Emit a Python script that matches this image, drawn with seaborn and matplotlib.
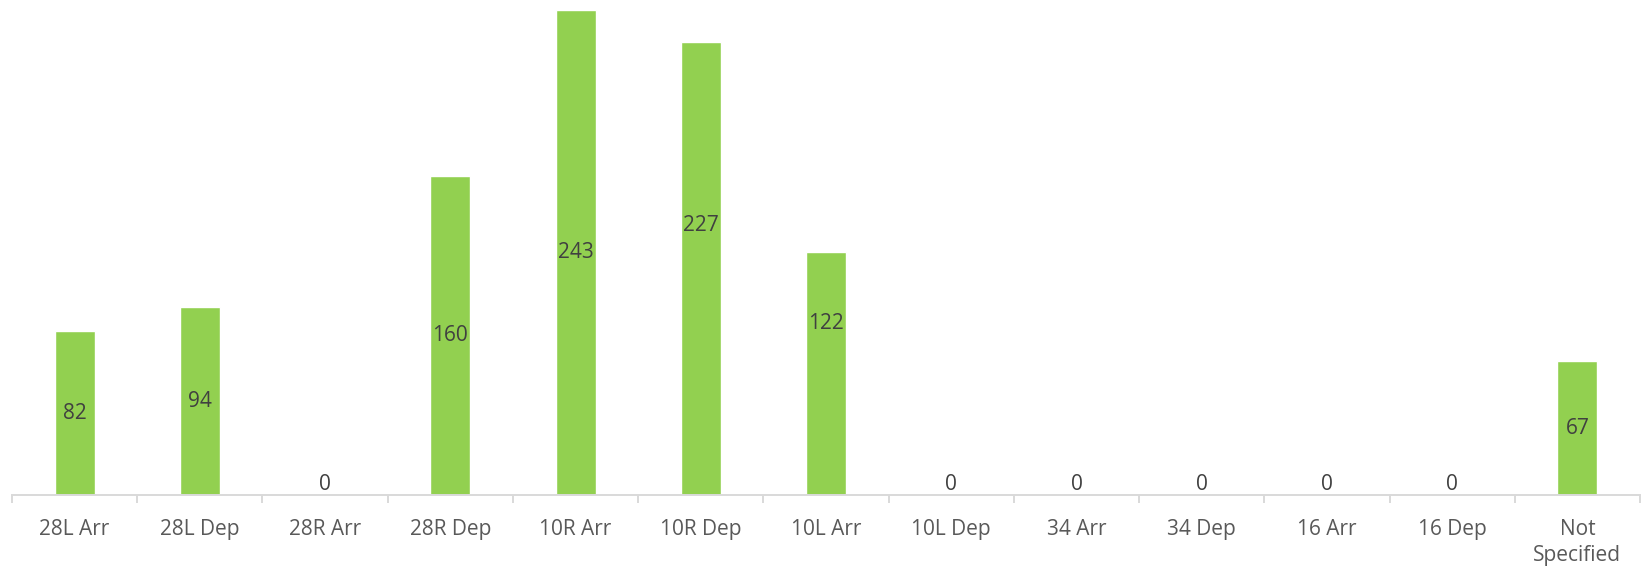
import numpy as np
import pandas as pd
import seaborn as sns
import matplotlib.pyplot as plt
from matplotlib.ticker import FixedLocator

# %% data ─────────────────────────────────────────────────────────────────────
runways = ["28L Arr", "28L Dep", "28R Arr", "28R Dep", "10R Arr", "10R Dep",
           "10L Arr", "10L Dep", "34 Arr", "34 Dep", "16 Arr", "16 Dep",
           "Not\nSpecified"]
counts = [82, 94, 0, 160, 243, 227, 122, 0, 0, 0, 0, 0, 67]

df = pd.DataFrame({"runway": runways, "count": counts})

# two labels sit higher than the bar centre in the original
label_frac = {"10R Dep": 0.595, "10L Arr": 0.705}

# %% plot ─────────────────────────────────────────────────────────────────────
sns.set_theme(style="white")
plt.rcParams["font.family"] = ["Open Sans", "DejaVu Sans"]

fig = plt.figure(figsize=(16.49, 5.71), dpi=100)
ax = fig.add_axes([12 / 1649, 76 / 571, 1628 / 1649, 485 / 571])

sns.barplot(data=df, x="runway", y="count", color="#92D050",
            saturation=1, width=0.32, ax=ax)

ax.set_ylim(0, 243)
ax.set_xlim(-0.5, len(runways) - 0.5)
ax.set_xlabel("")
ax.set_ylabel("")
ax.set_yticks([])

for s in ["top", "left", "right"]:
    ax.spines[s].set_visible(False)
ax.spines["bottom"].set_color("#D9D9D9")
ax.spines["bottom"].set_linewidth(1.4)

# separators between categories
ax.xaxis.set_minor_locator(FixedLocator(np.arange(-0.5, len(runways), 1.0)))
ax.tick_params(axis="x", which="minor", bottom=True, length=6,
               width=1.4, color="#D9D9D9")
ax.tick_params(axis="x", which="major", length=0, pad=17,
               labelsize=15, labelcolor="#595959")
for lbl in ax.get_xticklabels():
    lbl.set_linespacing(1.35)

# value labels: inside the bar, zeros just above the baseline
for i, (name, v) in enumerate(zip(runways, counts)):
    if v > 0:
        ax.text(i, v * label_frac.get(name, 0.5), str(v), ha="center",
                va="center", fontsize=15, color="#404040")
    else:
        ax.annotate(str(v), (i, 0), xytext=(0, 7.5), textcoords="offset points",
                    ha="center", va="center", fontsize=15, color="#404040")

plt.savefig("out.png", dpi=100)
